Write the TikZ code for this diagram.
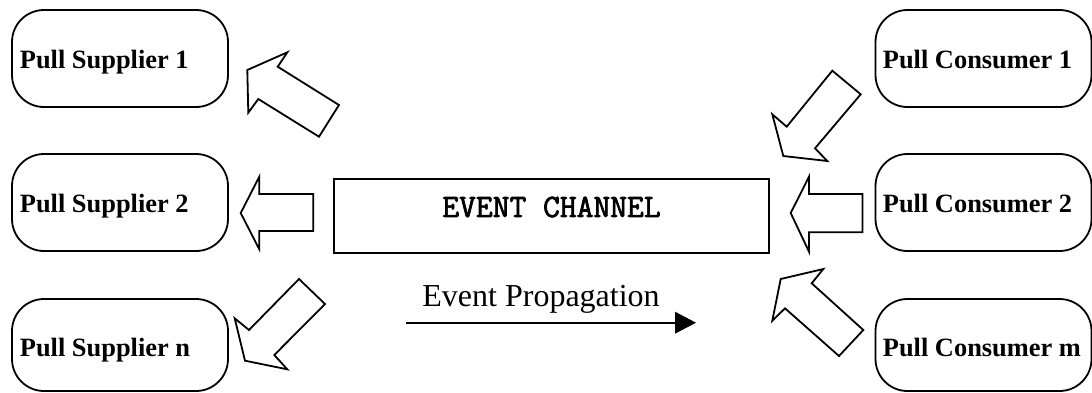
\documentclass[tikz,border=0pt]{standalone}
\usepackage{fontspec}
\setmainfont{Liberation Serif}
\newfontfamily\chanfont[FakeBold=2.2]{Latin Modern Mono}
\usetikzlibrary{arrows.meta}
\begin{document}
\begin{tikzpicture}[x=0.5pt,y=-0.5pt, line width=0.9pt, line join=miter,
  party/.style={draw, rounded corners=16pt, minimum width=108pt, minimum height=48.5pt, inner sep=0pt},
  partytext/.style={anchor=base west, inner sep=0pt, font=\bfseries\fontsize{13.2}{15}\selectfont},
  blockarrow/.style={draw, line join=miter}]
\useasboundingbox (0,0) rectangle (1092,392);
% suppliers
\node[party] (s1) at (120,58.5) {};
\node[party] (s2) at (120,202.5) {};
\node[party, minimum height=46pt] (sn) at (120,345) {};
\node[partytext] (s1t) at (19,68) {Pull Supplier 1};
\node[partytext] (s2t) at (19,212.7) {Pull Supplier 2};
\node[partytext] (snt) at (19,356.7) {Pull Supplier n};
% consumers
\node[party] (c1) at (983.5,58.5) {};
\node[party] (c2) at (983.5,202.5) {};
\node[party, minimum height=46pt] (cm) at (983.5,345) {};
\node[partytext] (c1t) at (882,68.3) {Pull Consumer 1};
\node[partytext] (c2t) at (882,212.7) {Pull Consumer 2};
\node[partytext] (cmt) at (882,356.7) {Pull Consumer m};
% channel
\node[draw, minimum width=217.5pt, minimum height=37pt, inner sep=0pt] (ec) at (551.5,216) {};
\node[font=\chanfont\fontsize{16.3}{18}\selectfont, inner sep=0pt] (ect) at (551.5,207) {EVENT CHANNEL};
% block arrows, left
\draw[blockarrow] (247.3,70) -- (287.3,52.3) -- (277.7,66.7) -- (339,105) -- (319,136.7) -- (258.3,99) -- (248.3,112.7) -- cycle;
\draw[blockarrow] (240.7,213) -- (259.3,176.7) -- (259.3,194) -- (313.3,194) -- (313.3,231) -- (259.3,231) -- (259.3,249.3) -- cycle;
\draw[blockarrow] (245,360.7) -- (287.3,369.3) -- (274.3,355) -- (325,304) -- (299,279) -- (249,330) -- (234.7,318.3) -- cycle;
% block arrows, right
\draw[blockarrow] (832.3,70.7) -- (860.7,94.3) -- (815,148.3) -- (827.3,161) -- (783.3,156) -- (772.3,114.3) -- (786.7,126.7) -- cycle;
\draw[blockarrow] (790.7,213) -- (809,176.7) -- (809,194) -- (862.5,194) -- (862.5,232.3) -- (809,232.3) -- (809,251.7) -- cycle;
\draw[blockarrow] (780.7,279) -- (823.3,269) -- (811.7,283.3) -- (863.3,330) -- (839,356) -- (785,308.3) -- (772.3,320.7) -- cycle;
% propagation
\node[anchor=base west, inner sep=0pt, font=\fontsize{16}{19}\selectfont] (ep) at (421.5,306.7) {Event Propagation};
\coordinate (ps) at (406,322.7);
\coordinate (pe) at (696,322.7);
\draw[-{Triangle[length=10.5pt,width=10.8pt]}] (ps) -- (pe);
\end{tikzpicture}
\end{document}
